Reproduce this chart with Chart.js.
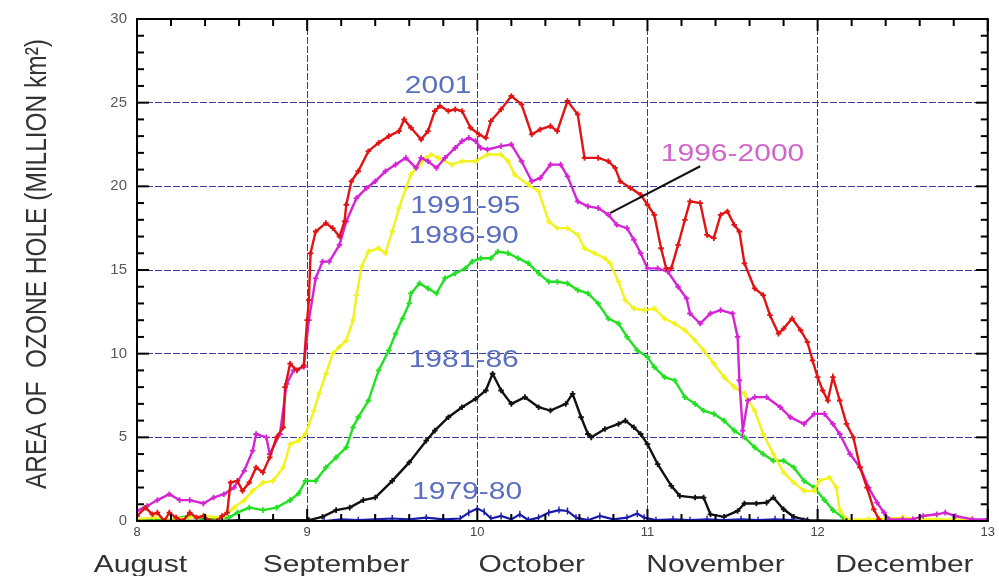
<!DOCTYPE html>
<html><head><meta charset="utf-8">
<script src="https://cdn.jsdelivr.net/npm/chart.js@4.4.1/dist/chart.umd.min.js"></script>
<style>html,body{margin:0;padding:0;background:#fff}#wrap{width:999px;height:576px;position:relative}</style>
</head><body><div id="wrap"><canvas id="c"></canvas></div>
<script>
// x axis in month units (8 = 1 August ... 13 = 1 January)
const xTickValues = [8, 9, 10, 11, 12, 13];
const monthNames = ['August', 'September', 'October', 'November', 'December'];
const monthLabelAt = [8.02, 9.17, 10.32, 11.40, 12.51];
const yTickValues = [0, 5, 10, 15, 20, 25, 30];
const yTitle = 'AREA OF  OZONE HOLE (MILLION km\u00B2)';

const series2001 = [[8.00,0.3],[8.05,0.8],[8.09,0.4],[8.12,0.5],[8.16,0.0],[8.19,0.5],[8.23,0.2],[8.27,0.0],[8.31,0.5],[8.35,0.2],[8.39,0.3],[8.43,0.0],[8.47,0.0],[8.50,0.3],[8.53,0.5],[8.55,2.3],[8.59,2.4],[8.62,1.8],[8.66,2.3],[8.70,3.2],[8.74,2.9],[8.78,3.8],[8.82,5.0],[8.86,5.6],[8.87,8.0],[8.90,9.4],[8.94,9.0],[8.98,9.3],[9.00,12.0],[9.01,13.2],[9.02,16.0],[9.05,17.3],[9.11,17.8],[9.15,17.5],[9.19,17.0],[9.22,17.9],[9.23,18.9],[9.26,20.3],[9.30,20.9],[9.36,22.1],[9.42,22.6],[9.48,23.0],[9.54,23.3],[9.57,24.0],[9.61,23.5],[9.67,22.8],[9.71,23.3],[9.75,24.5],[9.78,24.8],[9.83,24.5],[9.87,24.6],[9.91,24.5],[9.96,23.5],[10.01,23.1],[10.05,22.9],[10.08,23.9],[10.14,24.6],[10.20,25.4],[10.26,24.9],[10.32,23.1],[10.37,23.4],[10.43,23.6],[10.47,23.3],[10.53,25.1],[10.59,24.3],[10.63,21.7],[10.71,21.7],[10.77,21.5],[10.81,21.1],[10.84,20.3],[10.90,19.9],[10.96,19.5],[11.00,18.9],[11.04,18.3],[11.08,16.3],[11.11,15.1],[11.14,15.1],[11.18,16.5],[11.22,18.0],[11.25,19.1],[11.31,19.0],[11.35,17.1],[11.39,16.9],[11.43,18.3],[11.47,18.5],[11.51,17.7],[11.54,17.3],[11.57,15.4],[11.63,13.9],[11.68,13.5],[11.72,12.3],[11.77,11.2],[11.80,11.5],[11.85,12.1],[11.90,11.4],[11.94,10.7],[11.97,9.6],[12.00,8.6],[12.03,7.8],[12.06,7.2],[12.09,8.6],[12.13,7.2],[12.17,5.8],[12.21,5.0],[12.25,3.2],[12.29,2.0],[12.33,0.7],[12.36,0.1]];

const series1996_2000 = [[8.00,0.6],[8.06,0.9],[8.12,1.25],[8.19,1.6],[8.25,1.25],[8.31,1.25],[8.39,1.05],[8.45,1.4],[8.51,1.6],[8.57,2.0],[8.63,3.0],[8.68,4.2],[8.70,5.2],[8.76,5.0],[8.78,4.0],[8.84,5.2],[8.88,8.2],[8.92,9.0],[8.98,9.2],[9.01,12.0],[9.05,14.5],[9.09,15.5],[9.13,15.5],[9.19,16.5],[9.23,17.9],[9.29,19.3],[9.35,19.9],[9.40,20.3],[9.46,20.9],[9.52,21.3],[9.58,21.7],[9.64,21.1],[9.67,21.7],[9.71,21.5],[9.76,21.1],[9.81,21.7],[9.87,22.3],[9.91,22.7],[9.95,22.9],[9.99,22.7],[10.02,22.3],[10.06,22.2],[10.14,22.4],[10.20,22.5],[10.26,21.5],[10.32,20.3],[10.37,20.5],[10.43,21.3],[10.49,21.3],[10.53,20.6],[10.59,19.1],[10.65,18.8],[10.71,18.7],[10.77,18.3],[10.82,17.7],[10.88,17.5],[10.92,16.8],[10.96,16.0],[11.00,15.1],[11.06,15.1],[11.12,14.9],[11.18,14.0],[11.23,13.3],[11.25,12.4],[11.31,11.8],[11.37,12.4],[11.43,12.6],[11.50,12.4],[11.53,11.0],[11.54,8.4],[11.56,5.4],[11.59,7.2],[11.63,7.4],[11.70,7.4],[11.78,6.8],[11.84,6.2],[11.92,5.8],[11.98,6.4],[12.04,6.4],[12.09,5.8],[12.13,5.2],[12.19,4.0],[12.25,3.2],[12.30,2.0],[12.35,1.1],[12.39,0.5],[12.42,0.1],[12.50,0.1],[12.56,0.1],[12.62,0.3],[12.70,0.4],[12.75,0.5],[12.81,0.3],[12.91,0.1],[13.00,0.1]];

const series1991_95 = [[8.00,0.1],[8.10,0.2],[8.20,0.1],[8.30,0.2],[8.40,0.3],[8.50,0.2],[8.57,0.8],[8.63,1.25],[8.68,1.8],[8.74,2.3],[8.80,2.4],[8.86,3.2],[8.90,4.6],[8.95,4.8],[8.99,5.2],[9.04,6.6],[9.07,7.6],[9.11,8.8],[9.15,10.0],[9.19,10.4],[9.23,10.8],[9.27,12.0],[9.29,13.5],[9.32,15.2],[9.36,16.1],[9.42,16.3],[9.46,16.0],[9.50,17.3],[9.54,18.7],[9.58,19.9],[9.61,20.7],[9.66,21.3],[9.70,21.7],[9.73,21.9],[9.77,21.7],[9.85,21.3],[9.91,21.5],[9.99,21.5],[10.06,21.9],[10.14,21.9],[10.18,21.5],[10.22,20.7],[10.30,20.1],[10.36,19.7],[10.42,17.9],[10.47,17.5],[10.53,17.5],[10.59,17.1],[10.63,16.3],[10.69,16.0],[10.75,15.7],[10.78,15.4],[10.83,14.3],[10.87,13.2],[10.92,12.7],[10.98,12.6],[11.04,12.7],[11.10,12.1],[11.16,11.8],[11.22,11.4],[11.28,10.8],[11.33,10.2],[11.39,9.4],[11.45,8.6],[11.51,8.0],[11.57,7.6],[11.63,6.6],[11.68,5.2],[11.74,4.0],[11.80,2.9],[11.86,2.3],[11.92,1.8],[11.98,1.8],[12.01,2.4],[12.07,2.6],[12.11,2.0],[12.13,0.65],[12.17,0.1],[12.30,0.1],[12.50,0.2],[12.70,0.1],[12.90,0.1]];

const series1986_90 = [[8.00,0.0],[8.20,0.1],[8.30,0.3],[8.40,0.1],[8.54,0.2],[8.59,0.5],[8.66,0.8],[8.74,0.65],[8.82,0.8],[8.90,1.25],[8.95,1.65],[8.99,2.4],[9.05,2.4],[9.11,3.2],[9.17,3.8],[9.23,4.4],[9.27,5.6],[9.30,6.2],[9.36,7.2],[9.42,9.0],[9.48,10.2],[9.52,11.2],[9.56,12.1],[9.60,13.0],[9.61,13.6],[9.66,14.2],[9.71,13.9],[9.76,13.6],[9.81,14.5],[9.87,14.8],[9.93,15.1],[9.97,15.5],[10.02,15.7],[10.08,15.7],[10.12,16.1],[10.18,16.0],[10.24,15.7],[10.30,15.4],[10.36,14.8],[10.42,14.3],[10.47,14.3],[10.53,14.2],[10.59,13.8],[10.65,13.6],[10.71,13.0],[10.77,12.1],[10.83,11.8],[10.88,11.0],[10.94,10.2],[11.00,9.8],[11.04,9.2],[11.10,8.6],[11.16,8.4],[11.22,7.4],[11.28,7.0],[11.33,6.6],[11.39,6.4],[11.45,6.0],[11.51,5.4],[11.57,5.0],[11.63,4.4],[11.68,4.0],[11.74,3.6],[11.80,3.6],[11.86,3.2],[11.92,2.4],[11.98,2.0],[12.04,1.25],[12.09,0.65],[12.15,0.2],[12.20,0.0]];

const series1981_86 = [[8.00,0.0],[8.50,0.0],[8.60,0.05],[8.80,0.05],[9.01,0.05],[9.09,0.25],[9.17,0.65],[9.25,0.8],[9.33,1.25],[9.40,1.4],[9.50,2.4],[9.60,3.5],[9.70,4.8],[9.75,5.4],[9.83,6.2],[9.91,6.8],[9.99,7.3],[10.05,7.8],[10.09,8.8],[10.14,7.8],[10.20,7.0],[10.28,7.4],[10.36,6.8],[10.43,6.6],[10.52,7.0],[10.56,7.6],[10.61,6.2],[10.65,5.2],[10.67,5.0],[10.75,5.5],[10.83,5.8],[10.87,6.0],[10.92,5.6],[10.96,5.2],[11.00,4.6],[11.06,3.4],[11.14,2.1],[11.19,1.5],[11.28,1.4],[11.33,1.4],[11.37,0.4],[11.45,0.25],[11.53,0.6],[11.57,1.05],[11.64,1.05],[11.70,1.1],[11.74,1.4],[11.80,0.7],[11.86,0.25],[11.94,0.05],[12.17,0.0]];

const series1979_80 = [[9.10,0.0],[9.20,0.1],[9.30,0.05],[9.40,0.1],[9.50,0.15],[9.60,0.1],[9.70,0.2],[9.80,0.1],[9.90,0.15],[9.95,0.5],[10.00,0.75],[10.04,0.55],[10.08,0.15],[10.14,0.3],[10.20,0.1],[10.25,0.4],[10.30,0.05],[10.36,0.2],[10.42,0.5],[10.48,0.65],[10.53,0.6],[10.58,0.2],[10.65,0.05],[10.72,0.3],[10.80,0.1],[10.88,0.2],[10.94,0.45],[10.98,0.2],[11.05,0.05],[11.15,0.1],[11.25,0.05],[11.35,0.1],[11.45,0.05],[11.55,0.1],[11.65,0.05],[11.75,0.1],[11.85,0.05],[11.92,0.0]];

// in-plot series labels: [text, x (month), y (value), color]
const seriesLabels = [
  ['2001', 9.77, 26.0, '#5a6fbf'],
  ['1991-95', 9.93, 18.8, '#5a6fbf'],
  ['1986-90', 9.92, 17.0, '#5a6fbf'],
  ['1981-86', 9.92, 9.6, '#5a6fbf'],
  ['1979-80', 9.94, 1.7, '#5a6fbf'],
  ['1996-2000', 11.50, 21.9, '#cf66c8']
];
const leader = [[10.78, 18.4], [11.31, 21.2]];

function mk(label, pts, color, extra) {
  return Object.assign({
    label, data: pts.map(p => ({x: p[0], y: p[1]})),
    borderColor: color, backgroundColor: color,
    borderWidth: 2.4, pointStyle: 'cross', pointRadius: 2.8, pointBorderWidth: 1.8,
    pointHoverRadius: 0, tension: 0, fill: false
  }, extra || {});
}

const FONT = '"Liberation Sans", Arial, sans-serif';
const SX = 1.25; // the reference's text is stretched horizontally

const deco = {
  id: 'deco',
  afterDraw(chart) {
    const {ctx, chartArea: a, scales: {x, y}} = chart;
    ctx.save();
    const seg = (x1, y1, x2, y2) => { ctx.beginPath(); ctx.moveTo(x1, y1); ctx.lineTo(x2, y2); ctx.stroke(); };
    const wide = (t, cx, cy) => { ctx.save(); ctx.translate(cx, cy); ctx.scale(SX, 1); ctx.fillText(t, 0, 0); ctx.restore(); };
    // leader line
    ctx.strokeStyle = '#111'; ctx.lineWidth = 2;
    seg(x.getPixelForValue(leader[0][0]), y.getPixelForValue(leader[0][1]),
        x.getPixelForValue(leader[1][0]), y.getPixelForValue(leader[1][1]));
    // frame
    ctx.strokeStyle = '#000'; ctx.lineWidth = 2;
    ctx.strokeRect(a.left, a.top, a.right - a.left, a.bottom - a.top);
    // inward ticks
    for (let i = 0; i <= 25; i++) {
      const px = x.getPixelForValue(8 + i / 5);
      const L = i % 5 === 0 ? 12 : 7;
      seg(px, a.top, px, a.top + L);
      seg(px, a.bottom, px, a.bottom - L);
    }
    for (let v = 0; v <= 30; v++) {
      const py = y.getPixelForValue(v);
      const L = v % 5 === 0 ? 12 : 7;
      seg(a.left, py, a.left + L, py);
      seg(a.right, py, a.right - L, py);
    }
    // series labels
    ctx.font = '24px ' + FONT;
    ctx.textAlign = 'center'; ctx.textBaseline = 'middle';
    seriesLabels.forEach(l => {
      ctx.fillStyle = l[3];
      wide(l[0], x.getPixelForValue(l[1]), y.getPixelForValue(l[2]));
    });
    // month names
    ctx.fillStyle = '#333';
    ctx.font = '24px ' + FONT;
    ctx.textBaseline = 'alphabetic';
    monthNames.forEach((m, i) => wide(m, x.getPixelForValue(monthLabelAt[i]), 572));
    // y title
    ctx.save();
    ctx.translate(38, (a.top + a.bottom) / 2 - 6);
    ctx.rotate(-Math.PI / 2);
    ctx.font = '24px ' + FONT;
    ctx.textBaseline = 'middle';
    const w = ctx.measureText(yTitle).width;
    ctx.scale(450 / w, SX);
    ctx.fillStyle = '#333';
    ctx.fillText(yTitle, 0, 0);
    ctx.restore();
    ctx.restore();
  }
};

const gridColor = (c) => {
  const v = c.tick ? c.tick.value : null;
  return (v === 8 || v === 13 || v === 0 || v === 30) ? 'rgba(0,0,0,0)' : '#3d3d9c';
};

new Chart(document.getElementById('c'), {
  type: 'line',
  data: {
    datasets: [
      mk('1979-80', series1979_80, '#1a1aa8', {borderWidth: 2.2, pointStyle: 'line', rotation: 90, pointRadius: 3.5, pointBorderWidth: 1.4}),
      mk('1981-86', series1981_86, '#111111'),
      mk('2001', series2001, '#e01414'),
      mk('1996-2000', series1996_2000, '#d424d4'),
      mk('1991-95', series1991_95, '#f2f21e'),
      mk('1986-90', series1986_90, '#22e022')
    ]
  },
  options: {
    responsive: true, maintainAspectRatio: false, animation: false,
    layout: {padding: {top: 17, right: 7, left: 0, bottom: 0}},
    plugins: {legend: {display: false}, tooltip: {enabled: false}},
    events: [],
    scales: {
      x: {
        type: 'linear', min: 8, max: 13,
        afterBuildTicks: s => { s.ticks = xTickValues.map(v => ({value: v})); },
        afterFit: s => { s.height = 55; },
        ticks: {font: {size: 13, family: FONT}, color: '#444', padding: 4, maxRotation: 0, autoSkip: false},
        grid: {color: gridColor, lineWidth: 1, drawTicks: false},
        border: {display: false, dash: [7, 2]}
      },
      y: {
        min: 0, max: 30,
        afterBuildTicks: s => { s.ticks = yTickValues.map(v => ({value: v})); },
        afterFit: s => { s.width = 137; },
        ticks: {font: {size: 15, family: FONT}, color: '#5a5a5a', padding: 10},
        grid: {color: gridColor, lineWidth: 1, drawTicks: false},
        border: {display: false, dash: [7, 2]}
      }
    }
  },
  plugins: [deco]
});
</script>
</body></html>
